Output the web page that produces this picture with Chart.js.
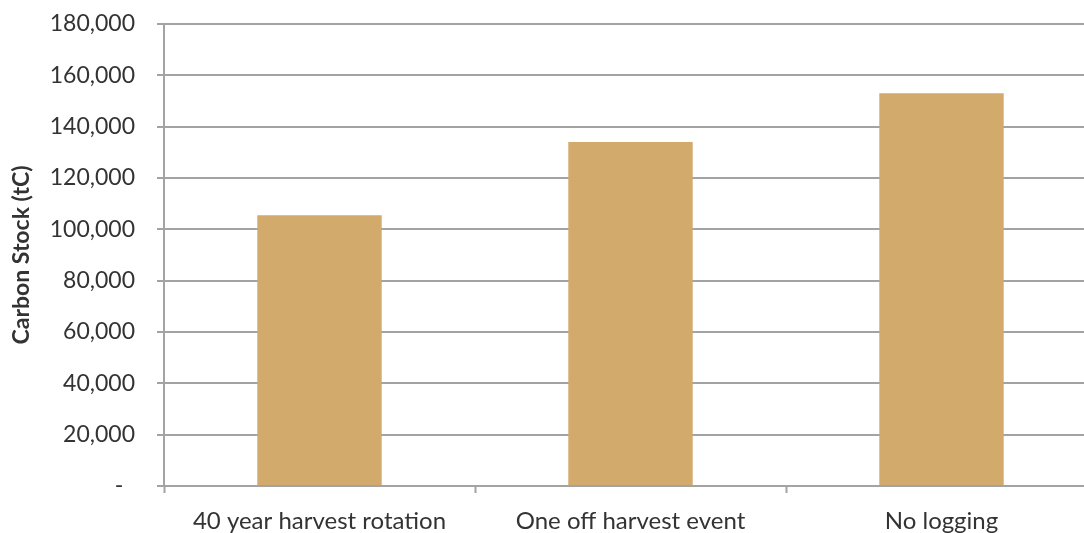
<!DOCTYPE html>
<html>
<head>
<meta charset="utf-8">
<script src="https://cdn.jsdelivr.net/npm/chart.js@4/dist/chart.umd.min.js"></script>
<style>
  html, body { margin: 0; padding: 0; background: #ffffff; overflow: hidden; }
  #wrap { width: 1100px; height: 533px; }
</style>
</head>
<body>
<div id="wrap"><canvas id="chart" width="1100" height="533"></canvas></div>
<script>
// Carbon stock under three forest management scenarios
const scenarios = ['40 year harvest rotation', 'One off harvest event', 'No logging'];
const carbonStock = [105500, 134000, 153000];
const yAxisTitle = 'Carbon Stock (tC)';

const gridColor = '#a3a3a3';
const textColor = '#333333';
const barColor = '#d2aa6c';

new Chart(document.getElementById('chart'), {
  type: 'bar',
  data: {
    labels: scenarios,
    datasets: [{
      data: carbonStock,
      backgroundColor: barColor,
      borderWidth: 0,
      barPercentage: 0.4,
      categoryPercentage: 1.0
    }]
  },
  options: {
    responsive: false,
    animation: false,
    layout: { padding: { left: 0, top: 24, right: 3, bottom: 0 } },
    plugins: {
      legend: { display: false },
      tooltip: { enabled: false }
    },
    scales: {
      x: {
        offset: true,
        grid: {
          display: true,
          offset: true,
          drawOnChartArea: false,
          drawTicks: true,
          tickLength: 7,
          tickColor: gridColor,
          tickWidth: 2
        },
        border: { display: true, color: gridColor, width: 2 },
        ticks: {
          color: textColor,
          font: { family: 'Lato', size: 24 },
          padding: 14,
          maxRotation: 0
        },
        afterFit: (scale) => {
          scale.height = 47;
          scale.paddingLeft = 0;
          scale.paddingRight = 0;
        }
      },
      y: {
        min: 0,
        max: 180000,
        grid: {
          color: gridColor,
          lineWidth: 2,
          tickLength: 7,
          tickColor: gridColor
        },
        border: { display: true, color: gridColor, width: 2 },
        ticks: {
          stepSize: 20000,
          color: textColor,
          font: { family: 'Lato', size: 23 },
          padding: 22,
          // accounting-style zero shown as a dash
          callback: (v) => v === 0 ? '-  ' : v.toLocaleString('en-US')
        },
        title: {
          display: true,
          text: yAxisTitle,
          color: textColor,
          font: { family: 'Lato', size: 23, weight: 'bold' },
          padding: { top: 8, bottom: 4 }
        },
        afterFit: (scale) => {
          scale.width = 164;
          scale.paddingTop = 0;
          scale.paddingBottom = 0;
        }
      }
    }
  }
});
</script>
</body>
</html>
